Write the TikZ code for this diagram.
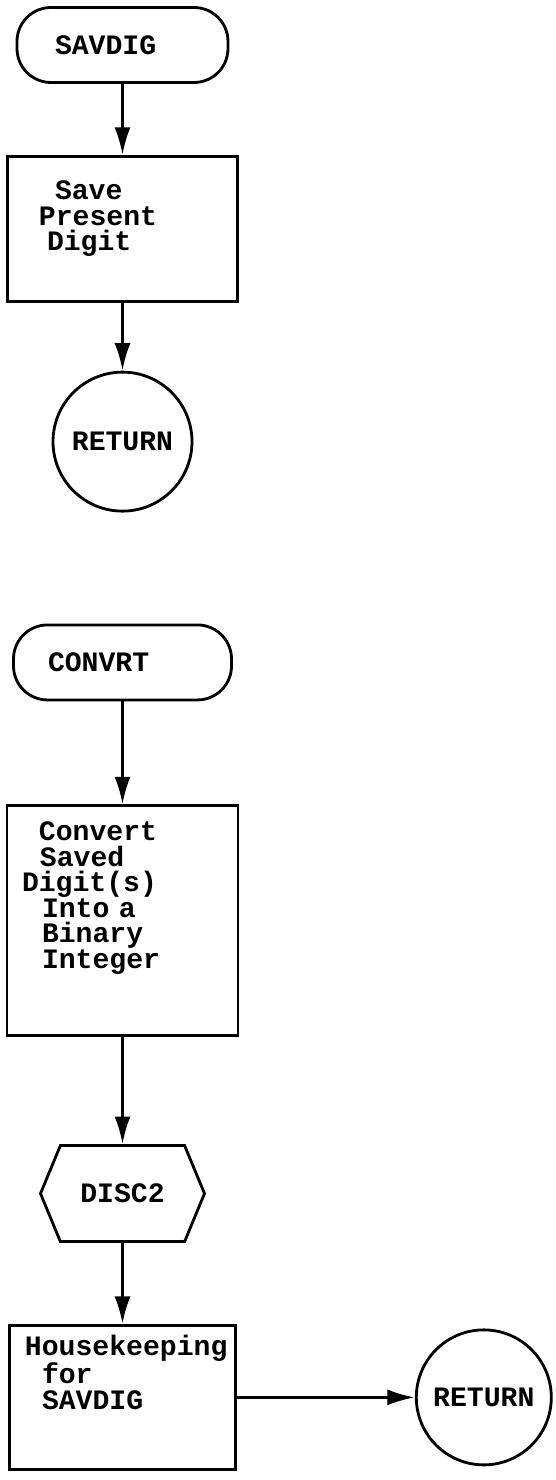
\documentclass[tikz,border=0pt]{standalone}
\usepackage{fontspec}
\setmonofont{Liberation Mono}
\usepackage{tikz}
\usetikzlibrary{arrows.meta,positioning,shapes.symbols}
\newcommand{\ind}[1]{\hspace*{#1}}

\begin{document}
\begin{tikzpicture}[->,>={Latex[length=5.5mm,width=3.2mm]},line width=1.6pt,
      font=\ttfamily\bfseries\fontsize{16}{14.5}\selectfont,
      term/.style={draw, rounded corners=6.8mm, minimum height=1.5cm, inner ysep=0pt, align=left},
      proc/.style={draw, inner xsep=0.24cm, inner ysep=0pt, align=left},
      disc/.style={draw, signal, signal to=west and east, signal pointer angle=135,
        minimum width=3.28cm, minimum height=1.92cm, inner sep=0pt},
      ret/.style={draw, circle, inner sep=0pt}]
     \useasboundingbox (0,0) rectangle (11.12,-29.6);
     % SAVDIG
     \node[term, inner xsep=0.76cm, text width=2.7cm] (savdig) at (2.45,-0.9) {SAVDIG};
     \node[proc, text width=4.12cm, minimum height=2.9cm, below = 1.42cm of savdig] (savebox)
        {\ind{0.71cm}Save\\\ind{0.39cm}Present\\\ind{0.55cm}Digit\\ \mbox{}};
     \node[ret, minimum size=2.78cm, below = 1.36cm of savebox] (ret1) {RETURN};
     % CONVRT
     \node[term, inner xsep=0.69cm, text width=2.98cm, below = 2.22cm of ret1] (convrt) {CONVRT};
     \node[proc, text width=4.14cm, minimum height=4.6cm, below = 2.06cm of convrt] (convbox)
        {\ind{0.4cm}Convert\\\ind{0.42cm}Saved\\\ind{0.06cm}Digit(s)\\\ind{0.46cm}Into a\\
         \ind{0.46cm}Binary\\\ind{0.46cm}Integer\\ \mbox{}\\ \mbox{}};
     \node[disc, below = 2.14cm of convbox] (disc2) {DISC2};
     \node[proc, text width=4.04cm, minimum height=2.88cm, below = 1.62cm of disc2] (housebox)
        {\ind{0.07cm}Housekeeping\\\ind{0.41cm}for\\\ind{0.41cm}SAVDIG\\ \mbox{}\\ \mbox{}};
     \node[ret, minimum size=2.7cm, right = 3.56cm of housebox] (ret2) {RETURN};
     \draw  (savdig) edge (savebox);
     \draw  (savebox) edge (ret1);
     \draw  (convrt) edge (convbox);
     \draw  (convbox) edge (disc2);
     \draw  (disc2) edge (housebox);
     \draw  (housebox) edge (ret2);
    \end{tikzpicture}
\end{document}
